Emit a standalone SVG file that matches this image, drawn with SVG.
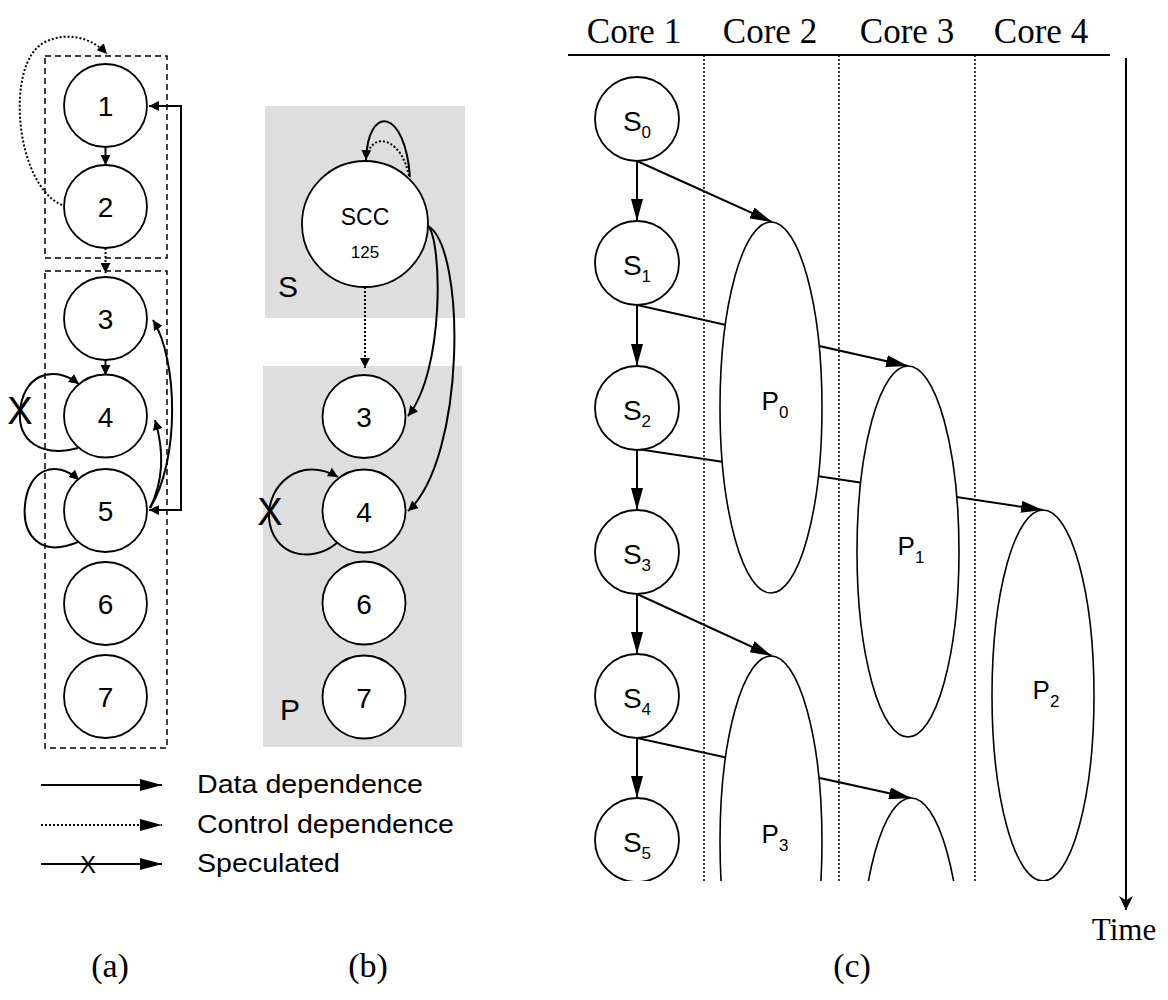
<svg xmlns="http://www.w3.org/2000/svg" width="1168" height="1000" viewBox="0 0 1168 1000">
  <defs>
    <style>
      .nd { fill: #fff; stroke: #000; stroke-width: 1.8; }
      .el { fill: #fff; stroke: #000; stroke-width: 1.6; }
      .sans { font-family: "Liberation Sans", Arial, sans-serif; fill: #000; }
      .serif { font-family: "Liberation Serif", "Times New Roman", serif; fill: #000; }
      .num { font-size: 28px; text-anchor: middle; }
      .ln { fill: none; stroke: #000; stroke-width: 2; }
      .dot { fill: none; stroke: #000; stroke-width: 2; stroke-dasharray: 2 2; }
      .col { fill: none; stroke: #000; stroke-width: 1.5; stroke-dasharray: 2 2; }
      .box { fill: none; stroke: #000; stroke-width: 1.5; stroke-dasharray: 6 4; }
      .shade { fill: #dedede; }
    </style>
    <marker id="ah" viewBox="0 0 10 10" refX="10" refY="5" markerWidth="10" markerHeight="10" markerUnits="userSpaceOnUse" orient="auto-start-reverse">
      <path d="M0,0 L10,5 L0,10 z" fill="#000"/>
    </marker>
    <marker id="ahL" viewBox="0 0 10 10" refX="10" refY="5" markerWidth="22" markerHeight="12" markerUnits="userSpaceOnUse" orient="auto" preserveAspectRatio="none">
      <path d="M0,0 L10,5 L0,10 z" fill="#000"/>
    </marker>
    <marker id="ahT" viewBox="0 0 10 10" refX="10" refY="5" markerWidth="14" markerHeight="14" markerUnits="userSpaceOnUse" orient="auto">
      <path d="M0,0 L10,5 L0,10 L3,5 z" fill="#000"/>
    </marker>
    <clipPath id="clipC">
      <rect x="560" y="0" width="560" height="881"/>
    </clipPath>
  </defs>

  <rect width="1168" height="1000" fill="#fff"/>

  <!-- ===== (a) dependence graph ===== -->
  <g id="a-groups">
    <rect class="box" x="45" y="56" width="122" height="202"/>
    <rect class="box" x="45" y="271" width="122" height="477"/>
  </g>

  <g id="a-connectors">
    <line class="ln" x1="105.5" y1="147" x2="105.5" y2="165" marker-end="url(#ah)"/>
    <line class="dot" x1="105.5" y1="248" x2="105.5" y2="273" marker-end="url(#ah)"/>
    <line class="ln" x1="105.5" y1="360" x2="105.5" y2="375" marker-end="url(#ah)"/>
    <path class="dot" d="M62,205 C15,185 4,62 45,42 C68,31 92,38 107,54" marker-end="url(#ah)"/>
    <polyline class="ln" points="149,106 181,106 181,510 149,510" marker-start="url(#ah)" marker-end="url(#ah)"/>
    <path class="ln" d="M150,508 C180,460 178,360 153,320" marker-end="url(#ah)"/>
    <path class="ln" d="M150,508 C164,480 164,450 155,420" marker-end="url(#ah)"/>
    <path class="ln" d="M78,448 C40,458 18,440 20,412 C22,378 50,362 79,384" marker-end="url(#ah)"/>
    <path class="ln" d="M78,542 C40,558 22,535 25,505 C28,470 55,458 79,480" marker-end="url(#ah)"/>
  </g>

  <g id="a-n1"><circle class="nd" cx="105.5" cy="105.5" r="41.5"/><text class="sans num" x="105.5" y="116">1</text></g>
  <g id="a-n2"><circle class="nd" cx="105.5" cy="206.5" r="41.5"/><text class="sans num" x="105.5" y="217">2</text></g>
  <g id="a-n3"><circle class="nd" cx="105.5" cy="318.5" r="41.5"/><text class="sans num" x="105.5" y="329">3</text></g>
  <g id="a-n4"><circle class="nd" cx="105.5" cy="416" r="41.5"/><text class="sans num" x="105.5" y="426.5">4</text></g>
  <g id="a-n5"><circle class="nd" cx="105.5" cy="510.5" r="41.5"/><text class="sans num" x="105.5" y="521">5</text></g>
  <g id="a-n6"><circle class="nd" cx="105.5" cy="603.5" r="41.5"/><text class="sans num" x="105.5" y="614">6</text></g>
  <g id="a-n7"><circle class="nd" cx="105.5" cy="696.5" r="41.5"/><text class="sans num" x="105.5" y="707">7</text></g>
  <text class="sans" x="20" y="424" font-size="38" text-anchor="middle">X</text>

  <!-- legend -->
  <g id="legend">
    <line class="ln" x1="41" y1="785" x2="162" y2="785" marker-end="url(#ahL)"/>
    <line class="dot" x1="41" y1="825" x2="162" y2="825" marker-end="url(#ahL)"/>
    <line class="ln" x1="41" y1="864" x2="162" y2="864" marker-end="url(#ahL)"/>
    <text class="sans" x="88" y="873" font-size="24" text-anchor="middle">X</text>
    <text class="sans" x="197" y="793" font-size="26" textLength="226" lengthAdjust="spacingAndGlyphs">Data dependence</text>
    <text class="sans" x="197" y="833" font-size="26" textLength="257" lengthAdjust="spacingAndGlyphs">Control dependence</text>
    <text class="sans" x="197" y="872" font-size="26" textLength="143" lengthAdjust="spacingAndGlyphs">Speculated</text>
  </g>

  <!-- ===== (b) partitioned graph ===== -->
  <g id="b-regions">
    <rect class="shade" x="265" y="106" width="200" height="212"/>
    <rect class="shade" x="263" y="366" width="199" height="381"/>
    <text class="sans" x="288" y="297" font-size="30" text-anchor="middle">S</text>
    <text class="sans" x="290" y="720" font-size="30" text-anchor="middle">P</text>
  </g>

  <g id="b-connectors">
    <path class="ln" d="M410,177 C405,108 368,104 366,160" marker-end="url(#ah)"/>
    <path class="dot" d="M409,176 C402,140 376,132 368,152"/>
    <line class="dot" x1="365" y1="287" x2="365" y2="368" marker-end="url(#ah)"/>
    <path class="ln" d="M428,226 C442,240 445,370 408,416" marker-end="url(#ah)"/>
    <path class="ln" d="M428,226 C466,248 466,458 408,511" marker-end="url(#ah)"/>
    <path class="ln" d="M337,543 C310,565 272,555 269,518 C267,485 300,455 338,477" marker-end="url(#ah)"/>
  </g>

  <g id="b-scc"><circle class="nd" cx="365" cy="224" r="63"/>
    <text class="sans" x="365" y="225" font-size="23" text-anchor="middle">SCC</text>
    <text class="sans" x="365" y="258" font-size="17" text-anchor="middle">125</text></g>
  <g id="b-n3"><circle class="nd" cx="364" cy="416.5" r="41.5"/><text class="sans num" x="364" y="427">3</text></g>
  <g id="b-n4"><circle class="nd" cx="364" cy="511" r="41.5"/><text class="sans num" x="364" y="521.5">4</text></g>
  <g id="b-n6"><circle class="nd" cx="364" cy="603" r="41.5"/><text class="sans num" x="364" y="613.5">6</text></g>
  <g id="b-n7"><circle class="nd" cx="364" cy="697" r="41.5"/><text class="sans num" x="364" y="707.5">7</text></g>
  <text class="sans" x="270" y="525" font-size="38" text-anchor="middle">X</text>

  <!-- ===== (c) schedule on four cores ===== -->
  <g id="c-header">
    <text class="serif" x="634" y="43" font-size="35" text-anchor="middle">Core 1</text>
    <text class="serif" x="770" y="43" font-size="35" text-anchor="middle">Core 2</text>
    <text class="serif" x="907" y="43" font-size="35" text-anchor="middle">Core 3</text>
    <text class="serif" x="1041" y="43" font-size="35" text-anchor="middle">Core 4</text>
    <line x1="568" y1="55" x2="1110" y2="55" stroke="#000" stroke-width="2"/>
  </g>

  <g clip-path="url(#clipC)">
    <g id="c-lanes">
      <line class="col" x1="704" y1="55" x2="704" y2="881"/>
      <line class="col" x1="839" y1="55" x2="839" y2="881"/>
      <line class="col" x1="975" y1="55" x2="975" y2="881"/>
    </g>

    <g id="c-connectors">
      <line class="ln" x1="637" y1="161" x2="637" y2="221" marker-end="url(#ahL)"/>
      <line class="ln" x1="637" y1="305" x2="637" y2="366" marker-end="url(#ahL)"/>
      <line class="ln" x1="637" y1="449" x2="637" y2="510" marker-end="url(#ahL)"/>
      <line class="ln" x1="637" y1="594" x2="637" y2="654" marker-end="url(#ahL)"/>
      <line class="ln" x1="637" y1="738" x2="637" y2="798" marker-end="url(#ahL)"/>
      <line class="ln" x1="637" y1="161" x2="772" y2="222" marker-end="url(#ahL)"/>
      <line class="ln" x1="637" y1="305" x2="908" y2="366" marker-end="url(#ahL)"/>
      <line class="ln" x1="637" y1="449" x2="1043" y2="510" marker-end="url(#ahL)"/>
      <line class="ln" x1="637" y1="594" x2="772" y2="656" marker-end="url(#ahL)"/>
      <line class="ln" x1="637" y1="738" x2="911" y2="798" marker-end="url(#ahL)"/>
    </g>

    <g id="c-s0"><circle class="nd" cx="637" cy="119" r="42"/><text class="sans" x="637" y="131" font-size="28" text-anchor="middle">S<tspan font-size="17" dy="7">0</tspan></text></g>
    <g id="c-s1"><circle class="nd" cx="637" cy="263" r="42"/><text class="sans" x="637" y="275" font-size="28" text-anchor="middle">S<tspan font-size="17" dy="7">1</tspan></text></g>
    <g id="c-s2"><circle class="nd" cx="637" cy="408" r="42"/><text class="sans" x="637" y="420" font-size="28" text-anchor="middle">S<tspan font-size="17" dy="7">2</tspan></text></g>
    <g id="c-s3"><circle class="nd" cx="637" cy="552" r="42"/><text class="sans" x="637" y="564" font-size="28" text-anchor="middle">S<tspan font-size="17" dy="7">3</tspan></text></g>
    <g id="c-s4"><circle class="nd" cx="637" cy="696" r="42"/><text class="sans" x="637" y="708" font-size="28" text-anchor="middle">S<tspan font-size="17" dy="7">4</tspan></text></g>
    <g id="c-s5"><circle class="nd" cx="637" cy="840" r="42"/><text class="sans" x="637" y="852" font-size="28" text-anchor="middle">S<tspan font-size="17" dy="7">5</tspan></text></g>

    <g id="c-p0"><ellipse class="el" cx="771" cy="407.5" rx="51" ry="185.5"/><text class="sans" x="775" y="410" font-size="26" text-anchor="middle">P<tspan font-size="17" dy="8">0</tspan></text></g>
    <g id="c-p1"><ellipse class="el" cx="908" cy="551.5" rx="51" ry="185.5"/><text class="sans" x="911" y="555" font-size="26" text-anchor="middle">P<tspan font-size="17" dy="8">1</tspan></text></g>
    <g id="c-p2"><ellipse class="el" cx="1043" cy="695.5" rx="51" ry="185.5"/><text class="sans" x="1046" y="699" font-size="26" text-anchor="middle">P<tspan font-size="17" dy="8">2</tspan></text></g>
    <g id="c-p3"><ellipse class="el" cx="771" cy="841.5" rx="51" ry="185.5"/><text class="sans" x="775" y="843" font-size="26" text-anchor="middle">P<tspan font-size="17" dy="8">3</tspan></text></g>
    <g id="c-p4"><ellipse class="el" cx="911" cy="983.5" rx="51" ry="185.5"/></g>
  </g>

  <g id="c-time">
    <line class="ln" x1="1126" y1="58" x2="1126" y2="910" marker-end="url(#ahT)"/>
    <text class="serif" x="1124" y="940" font-size="31" text-anchor="middle">Time</text>
  </g>

  <g id="captions">
    <text class="serif" x="110" y="977" font-size="34" text-anchor="middle">(a)</text>
    <text class="serif" x="368" y="977" font-size="34" text-anchor="middle">(b)</text>
    <text class="serif" x="852" y="977" font-size="34" text-anchor="middle">(c)</text>
  </g>
</svg>
